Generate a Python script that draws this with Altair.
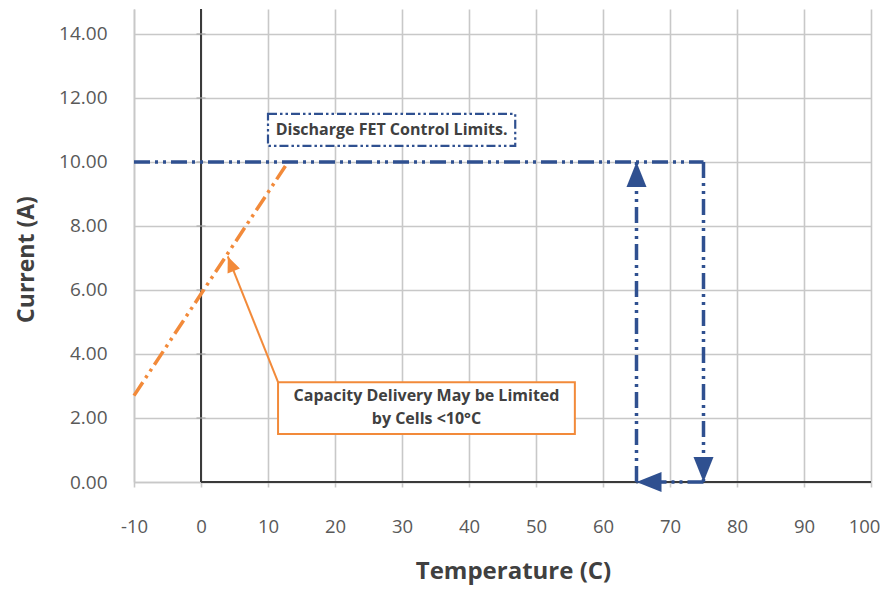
import altair as alt
import pandas as pd

# ---------------- data ----------------
X_TICKS = list(range(-10, 101, 10))
Y_TICKS = [0, 2, 4, 6, 8, 10, 12, 14]
X_DOMAIN = [-10, 100]
Y_DOMAIN = [0, 14.78]

# Discharge FET control-limit path segments (temperature C, current A)
fet_x = [-10, 75, 75, 65]
fet_y = [10, 10, 0, 0]
fet_x2 = [75, 75, 65, 65]
fet_y2 = [10, 0, 0, 10]

# arrow heads on the FET path
head_x = [65, 75, 65]
head_y = [10, 0, 0]
head_dir = ["up", "down", "left"]

# cell-limited line
cell_x = [-10]
cell_y = [2.7]
cell_x2 = [13]
cell_y2 = [10]

# orange pointer (from box corner to the line)
ptr_x = [11.5]
ptr_y = [3.12]
ptr_x2 = [4.0]
ptr_y2 = [7.05]

# axis lines through origin
vaxis_x = [0]
vaxis_y = [0]
vaxis_y2 = [14.78]
haxis_x = [0]
haxis_x2 = [100]
haxis_y = [0]
ytick_marks = [2, 4, 6, 8, 10, 12, 14]

# annotation boxes
fet_box = dict(x=[10.0], x2=[46.9], y=[11.5], y2=[10.5])
fet_label_x = [28.45]
fet_label_y = [11.0]
fet_label = ["Discharge FET Control Limits."]

cell_box = dict(x=[11.5], x2=[55.8], y=[3.12], y2=[1.5])
cell_label_x = [33.65, 33.65]
cell_label_y = [2.68, 1.98]
cell_label = ["Capacity Delivery May be Limited", "by Cells <10°C"]

# ---------------- styles ----------------
BLUE = "#2F5090"
ORANGE = "#F28A3A"
GRID = "#c8c8c8"
DARK = "#3a3a3a"
TEXT = "#404040"
FONT = "Open Sans"
DASH = [16, 5, 3, 5, 3, 5]

xs = alt.Scale(domain=X_DOMAIN, nice=False, zero=False)
ys = alt.Scale(domain=Y_DOMAIN, nice=False, zero=False)

X_AXIS = alt.Axis(
    values=X_TICKS, labelExpr="'' + datum.value", grid=True, labelFlush=False,
    labelOffset={"condition": {"test": "datum.value == 100", "value": -7}, "value": 0},
    gridColor=GRID, gridWidth=1.6, domainColor=GRID, domainWidth=1.6,
    tickColor=GRID, tickSize=5, tickWidth=1.6,
    labelFont=FONT, labelFontSize=18.5, labelColor="#595959", labelPadding=30,
    title="Temperature (C)", titleFont=FONT, titleFontSize=24,
    titleFontWeight="bold", titleColor=TEXT, titleX=379, titleY=89,
    titleAlign="center", titleBaseline="middle")
Y_AXIS = alt.Axis(
    values=Y_TICKS, format=".2f", grid=True, gridColor=GRID, gridWidth=1.6,
    domainColor=GRID, domainWidth=1.6, ticks=False, labelFlush=False,
    labelFont=FONT, labelFontSize=19, labelColor="#595959", labelPadding=27,
    title="Current (A)", titleFont=FONT, titleFontSize=23,
    titleFontWeight="bold", titleColor=TEXT, titleX=-108, titleY=250,
    titleAlign="center", titleBaseline="middle", titleAngle=270)


def X(field="x"):
    return alt.X(f"{field}:Q", scale=xs, axis=X_AXIS)


def Y(field="y"):
    return alt.Y(f"{field}:Q", scale=ys, axis=Y_AXIS)


vaxis = alt.Chart(pd.DataFrame({"x": vaxis_x, "y": vaxis_y, "y2": vaxis_y2})).mark_rule(
    color=DARK, strokeWidth=2).encode(x=X(), y=Y(), y2="y2:Q")
haxis = alt.Chart(pd.DataFrame({"x": haxis_x, "x2": haxis_x2, "y": haxis_y})).mark_rule(
    color=DARK, strokeWidth=2).encode(x=X(), x2="x2:Q", y=Y())
yticks = alt.Chart(pd.DataFrame({"x": [0] * len(ytick_marks), "y": ytick_marks})).mark_tick(
    orient="horizontal", size=9, thickness=1.6, color="#aaaaaa").encode(x=X(), y=Y())

cell_line = alt.Chart(pd.DataFrame({"x": cell_x, "y": cell_y, "x2": cell_x2, "y2": cell_y2})).mark_rule(
    color=ORANGE, strokeWidth=3.5, strokeDash=DASH).encode(x=X(), y=Y(), x2="x2:Q", y2="y2:Q")

fet_lines = alt.Chart(pd.DataFrame({"x": fet_x, "y": fet_y, "x2": fet_x2, "y2": fet_y2})).mark_rule(
    color=BLUE, strokeWidth=3.5, strokeDash=DASH).encode(x=X(), y=Y(), x2="x2:Q", y2="y2:Q")

UP = "M0,0 L0.4,1 L-0.4,1 Z"
DOWN = "M0,0 L0.4,-1 L-0.4,-1 Z"
LEFT = "M0,0 L1,-0.4 L1,0.4 Z"
heads = alt.Chart(pd.DataFrame({"x": head_x, "y": head_y, "d": head_dir})).mark_point(
    filled=True, opacity=1, size=2500, color=BLUE).encode(
    x=X(), y=Y(),
    shape=alt.Shape("d:N", scale=alt.Scale(domain=["up", "down", "left"], range=[UP, DOWN, LEFT]),
                    legend=None))

ptr_line = alt.Chart(pd.DataFrame({"x": ptr_x, "y": ptr_y, "x2": ptr_x2, "y2": ptr_y2})).mark_rule(
    color=ORANGE, strokeWidth=2).encode(x=X(), y=Y(), x2="x2:Q", y2="y2:Q")
ptr_head = alt.Chart(pd.DataFrame({"x": ptr_x2, "y": ptr_y2})).mark_point(
    shape="M0,0 L0.42,1 L-0.42,1 Z", filled=True, opacity=1, size=1000, angle=338,
    color=ORANGE).encode(x=X(), y=Y())

fet_rect = alt.Chart(pd.DataFrame(fet_box)).mark_rect(
    fill="white", stroke=BLUE, strokeWidth=2.2, strokeDash=[9, 3, 2.5, 3, 2.5, 3]).encode(
    x=X(), x2="x2:Q", y=Y(), y2="y2:Q")
fet_text = alt.Chart(pd.DataFrame({"x": fet_label_x, "y": fet_label_y, "t": fet_label})).mark_text(
    font=FONT, fontSize=16, fontWeight="bold", color=TEXT, align="center", baseline="middle").encode(
    x=X(), y=Y(), text="t:N")

cell_rect = alt.Chart(pd.DataFrame(cell_box)).mark_rect(
    fill="white", stroke=ORANGE, strokeWidth=2).encode(
    x=X(), x2="x2:Q", y=Y(), y2="y2:Q")
cell_text = alt.Chart(pd.DataFrame({"x": cell_label_x, "y": cell_label_y, "t": cell_label})).mark_text(
    font=FONT, fontSize=16, fontWeight="bold", color=TEXT, align="center", baseline="middle").encode(
    x=X(), y=Y(), text="t:N")

chart = alt.layer(
    vaxis, haxis, yticks, cell_line, fet_lines, heads, ptr_line, ptr_head,
    fet_rect, fet_text, cell_rect, cell_text,
).properties(
    width=737, height=473,
    padding={"left": 126, "top": 1, "right": 9, "bottom": 104},
    autosize=alt.AutoSizeParams(type="none"),
    background="white",
).configure_view(stroke=None)

chart.save("out.html", embed_options={"renderer": "svg", "actions": False})
